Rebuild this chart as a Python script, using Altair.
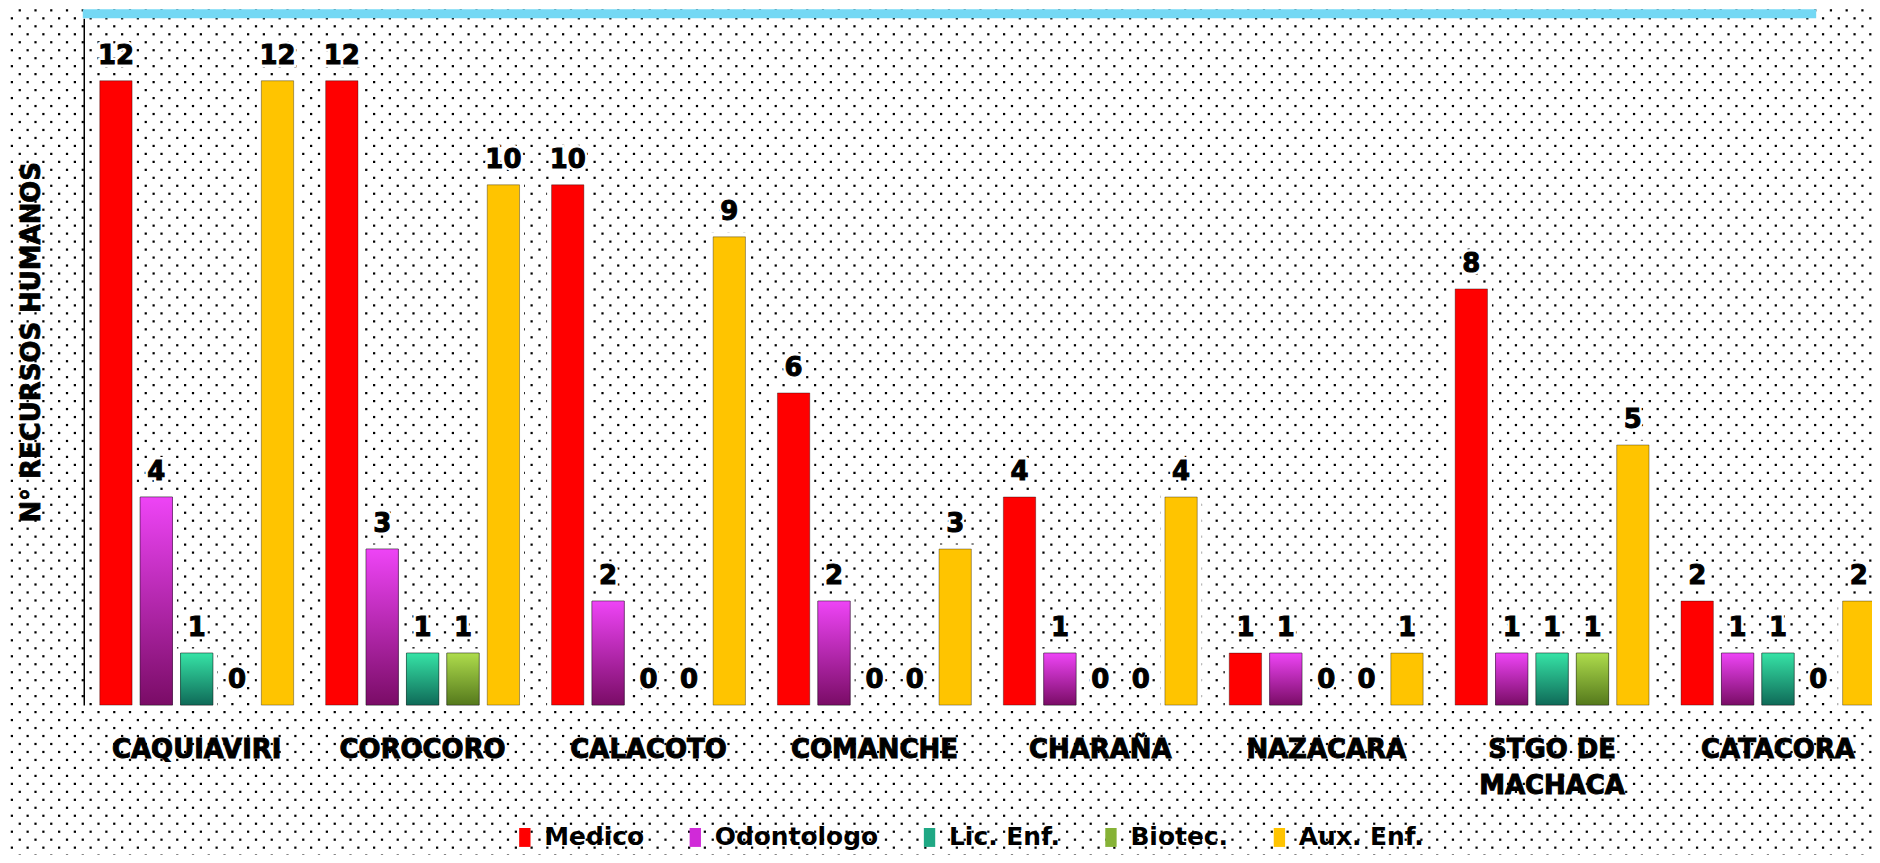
import altair as alt
import pandas as pd

categories = ["CAQUIAVIRI", "COROCORO", "CALACOTO", "COMANCHE", "CHARAÑA",
              "NAZACARA", "STGO DE MACHACA", "CATACORA"]
series = ["Medico", "Odontologo", "Lic. Enf.", "Biotec.", "Aux. Enf."]
medico = [12, 12, 10, 6, 4, 1, 8, 2]
odontologo = [4, 3, 2, 2, 1, 1, 1, 1]
lic_enf = [1, 1, 0, 0, 0, 0, 1, 1]
biotec = [0, 1, 0, 0, 0, 0, 1, 0]
aux_enf = [12, 10, 9, 3, 4, 1, 5, 2]
y_title = "N° RECURSOS HUMANOS"

colors = ["#ff0000", "#d02ad8", "#1fa884", "#86b236", "#ffc400"]
grad_top = {"Odontologo": "#ee44f6", "Lic. Enf.": "#36e3a6", "Biotec.": "#aedc4c"}
grad_bot = {"Odontologo": "#7a0c66", "Lic. Enf.": "#0f6a58", "Biotec.": "#55791c"}

rows = []
for vals, s in zip([medico, odontologo, lic_enf, biotec, aux_enf], series):
    for c, v in zip(categories, vals):
        rows.append({"Municipio": c, "Tipo": s, "Valor": v})
df = pd.DataFrame(rows)
cat_df = pd.DataFrame({"Municipio": categories})

FONT = "DejaVu Sans"
W, H = 1794, 689

x_enc = alt.X("Municipio:N", sort=categories,
              scale=alt.Scale(domain=categories, range=[0, 1813],
                              paddingInner=0.106, paddingOuter=0.053),
              axis=None)
xo_enc = alt.XOffset("Tipo:N", sort=series,
                     scale=alt.Scale(domain=series, paddingInner=0.2, paddingOuter=0.1))
y_enc = alt.Y("Valor:Q", scale=alt.Scale(domain=[0, 13.2], nice=False),
              axis=alt.Axis(title=None, labels=False, ticks=False,
                            grid=False, domain=True, domainColor="black", domainWidth=1.5))

base = alt.Chart(df)
pos = base.transform_filter("datum.Valor > 0")

glow = pos.mark_bar(fill="white", stroke="white", strokeWidth=9).encode(
    x=x_enc, xOffset=xo_enc, y=y_enc)

bars = pos.mark_bar(stroke="black", strokeOpacity=0.35, strokeWidth=1).encode(
    x=x_enc, xOffset=xo_enc, y=y_enc,
    color=alt.Color("Tipo:N", sort=series,
                    scale=alt.Scale(domain=series, range=colors),
                    legend=alt.Legend(title=None, orient="none", legendX=430, legendY=809,
                                      direction="horizontal", labelFont=FONT,
                                      labelFontWeight="bold", labelFontSize=25,
                                      labelColor="black", labelOffset=7, labelLimit=0,
                                      symbolType="M-0.6,-1H0.6V1H-0.6Z",
                                      symbolSize=361, symbolStrokeWidth=0,
                                      columnPadding=38, padding=0)),
)

grad_layers = []
for s in ["Odontologo", "Lic. Enf.", "Biotec."]:
    g = alt.Gradient(gradient="linear",
                     stops=[alt.GradientStop(offset=0, color=grad_top[s]),
                            alt.GradientStop(offset=1, color=grad_bot[s])],
                     x1=0, x2=0, y1=0, y2=1)
    grad_layers.append(
        pos.mark_bar(fill=g, stroke="black", strokeOpacity=0.35, strokeWidth=1)
        .encode(x=x_enc, xOffset=xo_enc, y=y_enc)
        .transform_filter(alt.datum.Tipo == s)
    )

halo = base.mark_text(font=FONT, fontWeight="bold", fontSize=26, dy=-17,
                      baseline="alphabetic", color="white", stroke="white",
                      strokeWidth=6).encode(x=x_enc, xOffset=xo_enc, y=y_enc, text="Valor:Q")
labels = base.mark_text(font=FONT, fontWeight="bold", fontSize=26, dy=-17,
                        baseline="alphabetic", color="black", stroke="black",
                        strokeWidth=1).encode(x=x_enc, xOffset=xo_enc, y=y_enc, text="Valor:Q")

cat_labels = alt.Chart(cat_df).transform_calculate(
    lab="datum.Municipio == 'STGO DE MACHACA' ? ['STGO DE', 'MACHACA'] : datum.Municipio"
).mark_text(font=FONT, fontWeight="bold", fontSize=26, baseline="top", align="center",
            lineHeight=36, color="black", stroke="black", strokeWidth=1).encode(
    x=x_enc, y=alt.value(H + 32), text="lab:N")

title_txt = alt.Chart(alt.Data(values=[{"t": y_title}])).mark_text(
    font=FONT, fontWeight="bold", fontSize=26, angle=270, align="center",
    baseline="middle", color="black", stroke="black", strokeWidth=0.8).encode(
    x=alt.value(-52), y=alt.value(325), text="t:N")

top_bar = alt.Chart(alt.Data(values=[{}])).mark_rect(color="#74d8f4").encode(
    x=alt.value(-1), x2=alt.value(1738), y=alt.value(-9), y2=alt.value(0))

NC, NR = 120, 107
dots = alt.Chart(alt.sequence(0, NC * NR, as_="i")).transform_calculate(
    r="floor(datum.i / 120)", c="datum.i % 120"
).transform_calculate(
    px="datum.c * 15.8 + (datum.r % 2) * 7.9 - 80",
    py="datum.r * 8 - 8"
).mark_square(size=5, color="black", opacity=1, strokeWidth=0).encode(
    x=alt.X("px:Q", scale=None, axis=None),
    y=alt.Y("py:Q", scale=None, axis=None),
)

main = alt.layer(glow, bars, *grad_layers, halo, labels, cat_labels, title_txt, top_bar)

chart = alt.layer(dots, main).resolve_scale(
    x="independent", y="independent"
).properties(
    width=W, height=H,
    padding={"left": 76, "top": 9, "right": 0, "bottom": 149},
    autosize=alt.AutoSizeParams(type="none"),
    background="white",
).configure_view(stroke=None)

chart.save("out.html", embed_options={"renderer": "svg", "actions": False})
